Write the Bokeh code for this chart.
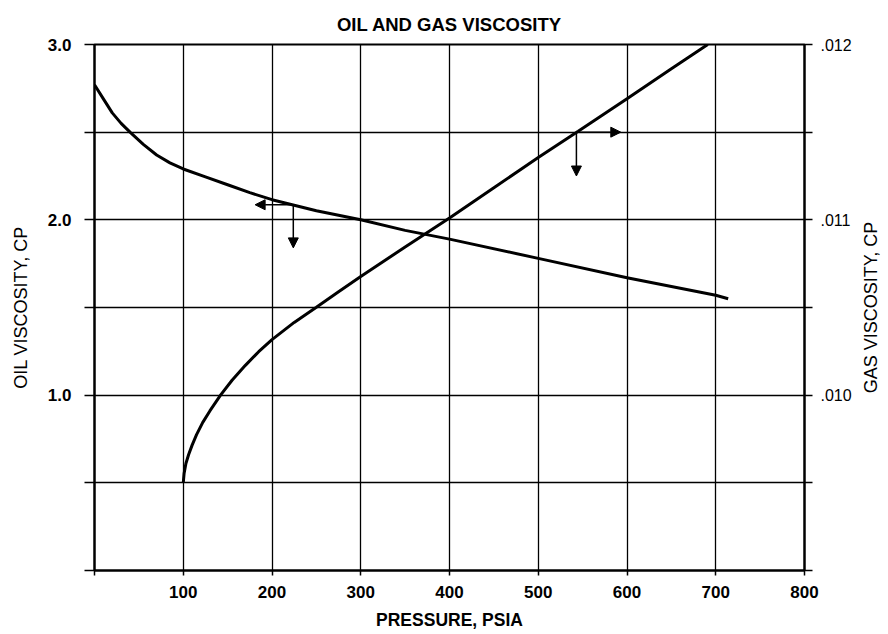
import math
from bokeh.plotting import figure
from bokeh.layouts import row
from bokeh.models import Range1d, LinearAxis, FixedTicker, Arrow, NormalHead, CustomJSTickFormatter
from bokeh.core.properties import value
from bokeh.embed import file_html
from bokeh.resources import INLINE

# ---- data ----
pressure_oil = [0, 10, 20, 30, 40, 55, 70, 85, 100, 125, 150, 175, 200, 250, 300, 350, 400, 500, 600, 700, 714]
oil_visc = [2.77, 2.69, 2.61, 2.55, 2.50, 2.43, 2.37, 2.325, 2.29, 2.245, 2.20, 2.155, 2.115, 2.052,
            2.00, 1.94, 1.89, 1.78, 1.67, 1.57, 1.55]

pressure_gas = [100, 101, 103, 106, 110, 115, 122, 130, 142, 155, 170, 185, 200, 225, 250, 275,
                300, 350, 400, 450, 500, 545, 600, 650, 691]
gas_visc = [0.009500, 0.009555, 0.009610, 0.009660, 0.009715, 0.009775, 0.009845, 0.009910,
            0.010000, 0.010085, 0.010170, 0.010248, 0.010317, 0.010415, 0.010502, 0.010590,
            0.010677, 0.010845, 0.011010, 0.011183, 0.011355, 0.011505, 0.011690, 0.011862, 0.012000]

x_ticks = [0, 100, 200, 300, 400, 500, 600, 700, 800]
oil_ticks = [0.0, 0.5, 1.0, 1.5, 2.0, 2.5, 3.0]
gas_ticks = [0.009, 0.0095, 0.010, 0.0105, 0.011, 0.0115, 0.012]

# arrows marking which axis each curve uses
oil_arrow_start = (224, 2.086)
oil_arrow_left_end = 181
oil_arrow_down_end = 1.84
gas_arrow_start = (543, 0.0115)
gas_arrow_right_end = 593
gas_arrow_down_end = 0.01125

FONT = "Liberation Sans"

p = figure(width=856, height=634, output_backend="svg", toolbar_location=None,
           x_range=Range1d(0, 800), y_range=Range1d(0, 3.0),
           min_border_left=94, min_border_right=52, min_border_top=44, min_border_bottom=64,
           title="OIL AND GAS VISCOSITY")
p.outline_line_color = "black"
p.outline_line_width = 2
p.background_fill_color = "white"
p.border_fill_color = "white"

p.title.align = "center"
p.title.vertical_align = "top"
p.title.text_font = FONT
p.title.text_font_size = "18.5px"
p.title.text_font_style = "bold"
p.title.text_color = "black"
p.title.standoff = 16

p.extra_y_ranges = {"gas": Range1d(0.009, 0.012)}

# bottom axis
xa = p.xaxis[0]
xa.ticker = FixedTicker(ticks=x_ticks)
xa.major_label_overrides = {0: ""}
xa.axis_label = "PRESSURE, PSIA"

# left axis
ya = p.yaxis[0]
ya.ticker = FixedTicker(ticks=oil_ticks)
ya.major_label_overrides = {0.0: "", 0.5: "", 1.0: "1.0", 1.5: "", 2.0: "2.0", 2.5: "", 3.0: "3.0"}
ya.axis_label = "OIL VISCOSITY, CP"

# right axis (its title, reading bottom-to-top, sits in a narrow strip beside the plot)
ra = LinearAxis(y_range_name="gas",
                ticker=FixedTicker(ticks=gas_ticks),
                formatter=CustomJSTickFormatter(code="""
                    const m = Math.round(tick * 2000);
                    if (m % 2 !== 0 || Math.round(tick*1000) === 9) return "";
                    return "." + String(Math.round(tick * 1000)).padStart(3, "0");
                """))
p.add_layout(ra, "right")

for ax in [xa, ya, ra]:
    ax.axis_line_color = "black"
    ax.axis_line_width = 2
    ax.major_tick_line_color = "black"
    ax.major_tick_line_width = 1.5
    ax.major_tick_in = 0
    ax.minor_tick_line_color = None
    ax.major_label_text_font = FONT
    ax.major_label_text_font_size = "17px"
    ax.major_label_text_font_style = "bold"
    ax.major_label_text_color = "black"
    ax.axis_label_text_font = FONT
    ax.axis_label_text_font_size = "18px"
    ax.axis_label_text_font_style = "normal"
    ax.axis_label_text_color = "black"

xa.axis_label_text_font_style = "bold"
xa.axis_label_text_font_size = "17.5px"
xa.major_tick_out = 5
xa.major_label_standoff = 10
xa.axis_label_standoff = 9
ya.major_tick_out = 10
ya.major_label_standoff = 13
ya.axis_label_standoff = 14
ra.major_tick_out = 8
ra.major_label_standoff = 8
ra.major_label_text_font_style = "normal"
ra.major_label_text_font_size = "16px"

# grid
p.xgrid.ticker = FixedTicker(ticks=x_ticks)
p.ygrid.ticker = FixedTicker(ticks=oil_ticks)
for g in [p.xgrid[0], p.ygrid[0]]:
    g.grid_line_color = "black"
    g.grid_line_width = 1.3
    g.grid_line_alpha = 1.0

# curves
p.line(pressure_oil, oil_visc, line_color="black", line_width=3)
p.line(pressure_gas, gas_visc, line_color="black", line_width=3, y_range_name="gas")

# arrows
def head():
    return NormalHead(size=10, fill_color="black", line_color="black")

p.add_layout(Arrow(end=head(), x_start=oil_arrow_start[0], y_start=oil_arrow_start[1],
                   x_end=oil_arrow_left_end, y_end=oil_arrow_start[1],
                   line_color="black", line_width=1.5))
p.add_layout(Arrow(end=head(), x_start=oil_arrow_start[0], y_start=oil_arrow_start[1],
                   x_end=oil_arrow_start[0], y_end=oil_arrow_down_end,
                   line_color="black", line_width=1.5))
p.add_layout(Arrow(end=head(), x_start=gas_arrow_start[0], y_start=gas_arrow_start[1],
                   x_end=gas_arrow_right_end, y_end=gas_arrow_start[1],
                   y_range_name="gas", line_color="black", line_width=1.5))
p.add_layout(Arrow(end=head(), x_start=gas_arrow_start[0], y_start=gas_arrow_start[1],
                   x_end=gas_arrow_start[0], y_end=gas_arrow_down_end,
                   y_range_name="gas", line_color="black", line_width=1.5))

# narrow strip holding the right-axis title
strip = figure(width=32, height=634, output_backend="svg", toolbar_location=None,
               x_range=Range1d(0, 1), y_range=Range1d(0, 1),
               x_axis_location=None, y_axis_location=None,
               min_border_left=0, min_border_right=0, min_border_top=44, min_border_bottom=64)
strip.outline_line_color = None
strip.grid.visible = False
strip.background_fill_color = "white"
strip.border_fill_color = "white"
strip.text(x=[0.44], y=[0.5], text=["GAS VISCOSITY, CP"], angle=math.pi / 2,
           text_align="center", text_baseline="middle",
           text_font=value(FONT), text_font_size="18px", text_color="black")

layout = row(p, strip, spacing=0)
open("out.html", "w").write(file_html(layout, INLINE))
